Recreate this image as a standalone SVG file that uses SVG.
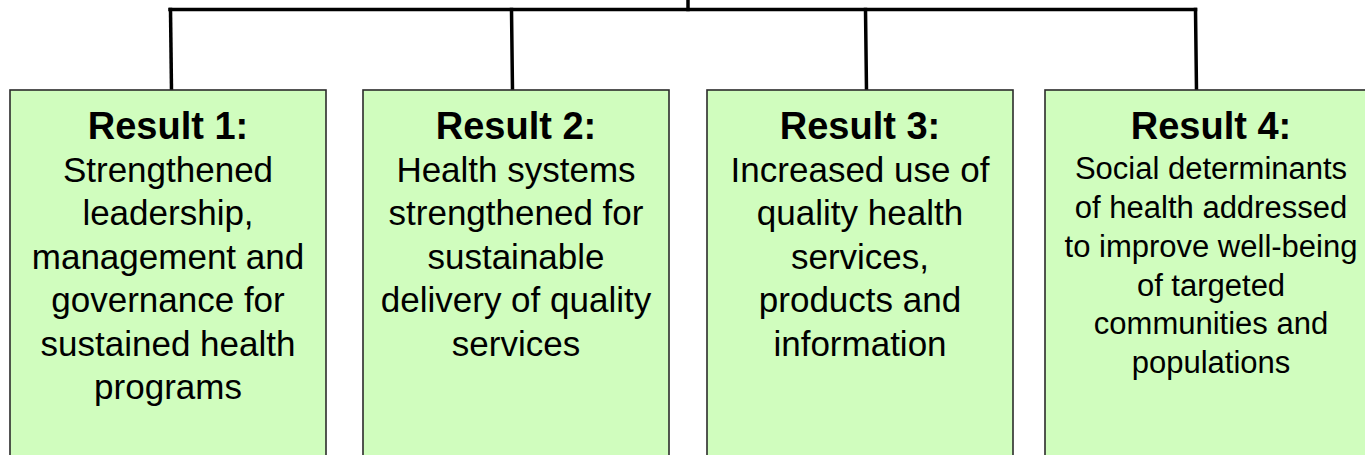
<svg xmlns="http://www.w3.org/2000/svg" width="1365" height="455" viewBox="0 0 1365 455">
<style>
.box{fill:#D0FDBE;stroke:#2b2b2b;stroke-width:1.6}
.conn{fill:none;stroke:#000;stroke-width:3.5;stroke-linecap:square}
.t{font-family:"Liberation Sans",Arial,sans-serif;fill:#000;text-anchor:middle}
.h{font-size:38px;font-weight:bold}
.b{font-size:35px}
.s{font-size:31px}
</style>
<rect width="1365" height="455" fill="#fff"/>
<g id="connectors">
<path class="conn" d="M688,0 V9.5"/>
<path class="conn" d="M170,9.5 H1195.5"/>
<path class="conn" d="M170.5,9.5 L171.5,90"/>
<path class="conn" d="M511.5,9.5 L512.5,90"/>
<path class="conn" d="M865.5,9.5 L866.5,90"/>
<path class="conn" d="M1195.5,9.5 L1196.5,90"/>
</g>
<g id="result1">
<rect class="box" x="10" y="90" width="316" height="380"/>
<text class="t h" x="168" y="139">Result 1:</text>
<text class="t b" x="168" y="181.5">Strengthened</text>
<text class="t b" x="168" y="225">leadership,</text>
<text class="t b" x="168" y="268.5">management and</text>
<text class="t b" x="168" y="312">governance for</text>
<text class="t b" x="168" y="355.5">sustained health</text>
<text class="t b" x="168" y="399">programs</text>
</g>
<g id="result2">
<rect class="box" x="363" y="90" width="306" height="380"/>
<text class="t h" x="516" y="139">Result 2:</text>
<text class="t b" x="516" y="181.5">Health systems</text>
<text class="t b" x="516" y="225">strengthened for</text>
<text class="t b" x="516" y="268.5">sustainable</text>
<text class="t b" x="516" y="312">delivery of quality</text>
<text class="t b" x="516" y="355.5">services</text>
</g>
<g id="result3">
<rect class="box" x="707" y="90" width="306" height="380"/>
<text class="t h" x="860" y="139">Result 3:</text>
<text class="t b" x="860" y="181.5">Increased use of</text>
<text class="t b" x="860" y="225">quality health</text>
<text class="t b" x="860" y="268.5">services,</text>
<text class="t b" x="860" y="312">products and</text>
<text class="t b" x="860" y="355.5">information</text>
</g>
<g id="result4">
<rect class="box" x="1045" y="90" width="340" height="380"/>
<text class="t h" x="1211" y="139">Result 4:</text>
<text class="t s" x="1211" y="179">Social determinants</text>
<text class="t s" x="1211" y="218">of health addressed</text>
<text class="t s" x="1211" y="257">to improve well-being</text>
<text class="t s" x="1211" y="295.5">of targeted</text>
<text class="t s" x="1211" y="334">communities and</text>
<text class="t s" x="1211" y="373">populations</text>
</g>
</svg>
